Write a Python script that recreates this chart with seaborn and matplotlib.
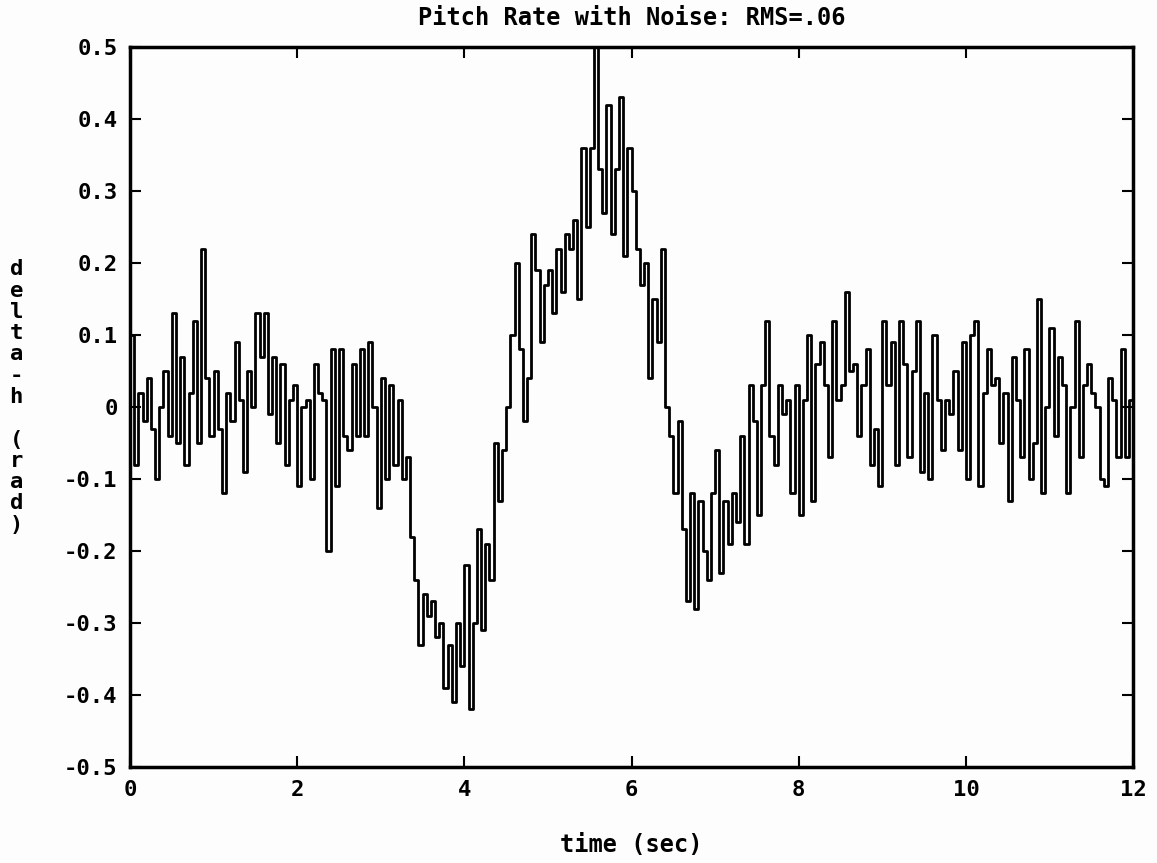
import numpy as np
import pandas as pd
import matplotlib
matplotlib.use("Agg")
import matplotlib.pyplot as plt
import seaborn as sns

# time base (sec) and pitch-rate-with-noise values (every 0.05 s)
dt = 0.05
values = [
    # 0.0 - 0.45
    0.10, -0.08, 0.02, -0.02, 0.04, -0.03, -0.10, 0.00, 0.05, -0.04,
    # 0.5 - 0.95
    0.13, -0.05, 0.07, -0.08, 0.02, 0.12, -0.05, 0.22, 0.04, -0.04,
    # 1.0 - 1.45
    0.05, -0.03, -0.12, 0.02, -0.02, 0.09, 0.01, -0.09, 0.05, 0.00,
    # 1.5 - 1.95
    0.13, 0.07, 0.13, -0.01, 0.07, -0.05, 0.06, -0.08, 0.01, 0.03,
    # 2.0 - 2.45
    -0.11, 0.00, 0.01, -0.10, 0.06, 0.02, 0.01, -0.20, 0.08, -0.11,
    # 2.5 - 2.95
    0.08, -0.04, -0.06, 0.06, -0.04, 0.08, -0.04, 0.09, 0.00, -0.14,
    # 3.0 - 3.45
    0.04, -0.10, 0.03, -0.08, 0.01, -0.10, -0.07, -0.18, -0.24, -0.33,
    # 3.5 - 3.95
    -0.26, -0.29, -0.27, -0.32, -0.30, -0.39, -0.33, -0.41, -0.30, -0.36,
    # 4.0 - 4.45
    -0.22, -0.42, -0.30, -0.17, -0.31, -0.19, -0.24, -0.05, -0.13, -0.06,
    # 4.5 - 4.95
    0.00, 0.10, 0.20, 0.08, -0.02, 0.04, 0.24, 0.19, 0.09, 0.17,
    # 5.0 - 5.45
    0.19, 0.13, 0.22, 0.16, 0.24, 0.22, 0.26, 0.15, 0.36, 0.25,
    # 5.5 - 5.95
    0.36, 0.50, 0.33, 0.27, 0.42, 0.24, 0.33, 0.43, 0.21, 0.36,
    # 6.0 - 6.45
    0.30, 0.22, 0.17, 0.20, 0.04, 0.15, 0.09, 0.22, 0.00, -0.04,
    # 6.5 - 6.95
    -0.12, -0.02, -0.17, -0.27, -0.12, -0.28, -0.13, -0.20, -0.24, -0.12,
    # 7.0 - 7.45
    -0.06, -0.23, -0.13, -0.19, -0.12, -0.16, -0.04, -0.19, 0.03, -0.02,
    # 7.5 - 7.95
    -0.15, 0.03, 0.12, -0.04, -0.08, 0.03, -0.01, 0.01, -0.12, 0.03,
    # 8.0 - 8.45
    -0.15, 0.01, 0.10, -0.13, 0.06, 0.09, 0.03, -0.07, 0.12, 0.01,
    # 8.5 - 8.95
    0.03, 0.16, 0.05, 0.06, -0.04, 0.03, 0.08, -0.08, -0.03, -0.11,
    # 9.0 - 9.45
    0.12, 0.03, 0.09, -0.08, 0.12, 0.06, -0.07, 0.05, 0.12, -0.09,
    # 9.5 - 9.95
    0.02, -0.10, 0.10, 0.01, -0.06, 0.01, -0.01, 0.05, -0.06, 0.09,
    # 10.0 - 10.45
    -0.10, 0.10, 0.12, -0.11, 0.02, 0.08, 0.03, 0.04, -0.05, 0.02,
    # 10.5 - 10.95
    -0.13, 0.07, 0.01, -0.07, 0.08, -0.10, -0.05, 0.15, -0.12, 0.00,
    # 11.0 - 11.45
    0.11, -0.04, 0.07, 0.03, -0.12, 0.00, 0.12, -0.07, 0.03, 0.06,
    # 11.5 - 11.95
    0.02, 0.00, -0.10, -0.11, 0.04, 0.01, -0.07, 0.08, -0.07, 0.01,
    # 12.0
    -0.03,
]
time = [round(i * dt, 2) for i in range(len(values))]

x_ticks = [0, 2, 4, 6, 8, 10, 12]
x_ticklabels = ["0", "2", "4", "6", "8", "10", "12"]
y_ticks = [0.5, 0.4, 0.3, 0.2, 0.1, 0.0, -0.1, -0.2, -0.3, -0.4, -0.5]
y_ticklabels = ["0.5", "0.4", "0.3", "0.2", "0.1", "0", "-0.1", "-0.2", "-0.3", "-0.4", "-0.5"]

title = "Pitch Rate with Noise: RMS=.06"
xlabel = "time (sec)"
ylabel = "delta-h (rad)"

df = pd.DataFrame({"time": time, "rate": values})

sns.set_style("ticks")
plt.rcParams["font.family"] = ["DejaVu Sans Mono", "DejaVu Sans"]
plt.rcParams["font.weight"] = "bold"
plt.rcParams["text.color"] = "black"

fig = plt.figure(figsize=(11.57, 8.63), dpi=100)
fig.patch.set_facecolor("#fdfdfd")
ax = fig.add_axes([0.1124, 0.1112, 0.8669, 0.8343])
ax.set_facecolor("#fdfdfd")

sns.lineplot(data=df, x="time", y="rate", ax=ax, color="black", linewidth=2.0,
             estimator=None, drawstyle="steps-post")

ax.set_xlim(0, 12)
ax.set_ylim(-0.5, 0.5)
ax.set_xticks(x_ticks)
ax.set_xticklabels(x_ticklabels)
ax.set_yticks(y_ticks)
ax.set_yticklabels(y_ticklabels)
ax.tick_params(direction="in", length=8, width=1.5, top=True, right=True,
               labelsize=16, pad=9, colors="black")
for lab in ax.get_xticklabels() + ax.get_yticklabels():
    lab.set_fontweight("bold")
for sp in ax.spines.values():
    sp.set_visible(True)
    sp.set_linewidth(2.5)
    sp.set_color("black")

ax.set_xlabel("")
ax.set_ylabel("")
fig.text(0.546, 0.979, title, ha="center", va="center", fontsize=17,
         fontweight="bold", color="black")
fig.text(0.546, 0.021, xlabel, ha="center", va="center", fontsize=17,
         fontweight="bold", color="black")
fig.text(0.014, 0.54, "\n".join(list(ylabel)), ha="center", va="center",
         fontsize=16, fontweight="bold", linespacing=1.08, color="black")

fig.savefig("out.png", dpi=100, facecolor=fig.get_facecolor())
